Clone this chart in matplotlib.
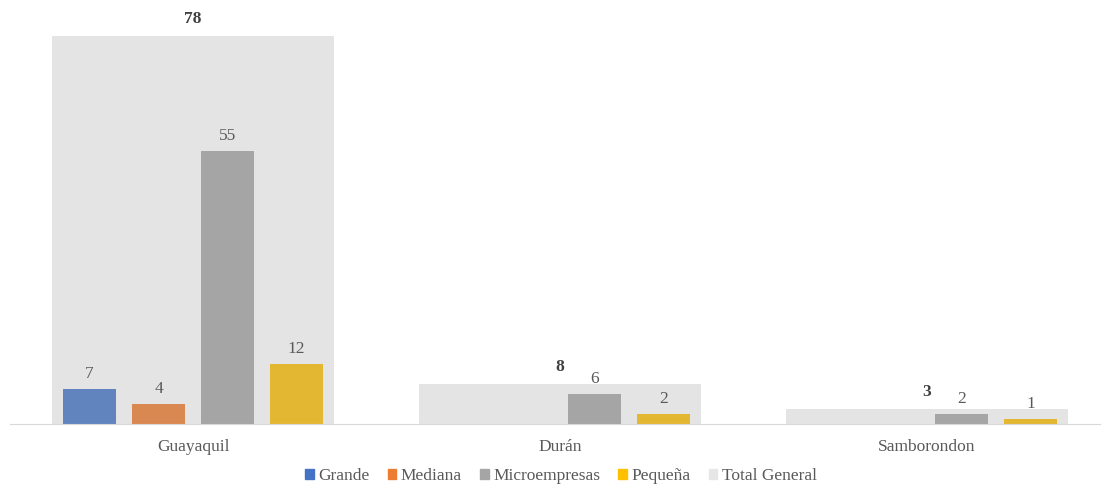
import numpy as np
import matplotlib.pyplot as plt
from matplotlib.patches import Patch

plt.rcParams['font.family'] = ['Liberation Serif', 'DejaVu Serif']

ciudades = ['Guayaquil', 'Durán', 'Samborondon']
series = ['Grande', 'Mediana', 'Microempresas', 'Pequeña']
valores = {
    'Grande': [7, 0, 0],
    'Mediana': [4, 0, 0],
    'Microempresas': [55, 6, 2],
    'Pequeña': [12, 2, 1],
}
total = [78, 8, 3]

colores_barra = ['#6183BE', '#D98851', '#A5A5A5', '#E4B733']
colores_leyenda = ['#4472C4', '#ED7D31', '#A5A5A5', '#FFC000', '#E7E6E6']
color_total = '#E4E4E4'
gris_texto = '#595959'
fs = 12.5

fig = plt.figure(figsize=(11.07, 4.84), dpi=100)
ax = fig.add_axes([10/1107, 60/484, 1090/1107, 80*4.97/484])

x = np.arange(len(ciudades))
ax.bar(x, total, width=0.768, color=color_total, zorder=1)

paso = 0.188
ancho = 0.145
for i, (s, c) in enumerate(zip(series, colores_barra)):
    pos = x + (i - 1.5) * paso
    vals = valores[s]
    ax.bar(pos, vals, width=ancho, color=c, zorder=2)
    for p, v in zip(pos, vals):
        if v > 0:
            ax.text(p, v + 1.4, str(v), ha='center', va='bottom',
                    fontsize=fs, color=gris_texto, zorder=3)

for xi, t in zip(x, total):
    ax.text(xi, t + 1.8, str(t), ha='center', va='bottom', fontsize=fs,
            fontweight='bold', color='#404040', zorder=3)

ax.set_xlim(-0.4986, 2.471)
ax.set_ylim(0, 80)
for sp in ['top', 'right', 'left']:
    ax.spines[sp].set_visible(False)
ax.spines['bottom'].set_color('#D9D9D9')
ax.set_yticks([])
ax.set_xticks(x)
ax.set_xticklabels(ciudades, fontsize=fs, color=gris_texto)
ax.tick_params(axis='x', length=0, pad=11)

handles = [Patch(color=c, label=l) for c, l in
           zip(colores_leyenda, series + ['Total General'])]
fig.legend(handles=handles, loc='center', bbox_to_anchor=(561/1107, 1 - 476/484),
           ncol=5, frameon=False, fontsize=fs, handlelength=0.5, handleheight=0.5,
           handletextpad=0.25, columnspacing=1.05, labelcolor=gris_texto)

fig.savefig('out.png', dpi=100, facecolor='white')
